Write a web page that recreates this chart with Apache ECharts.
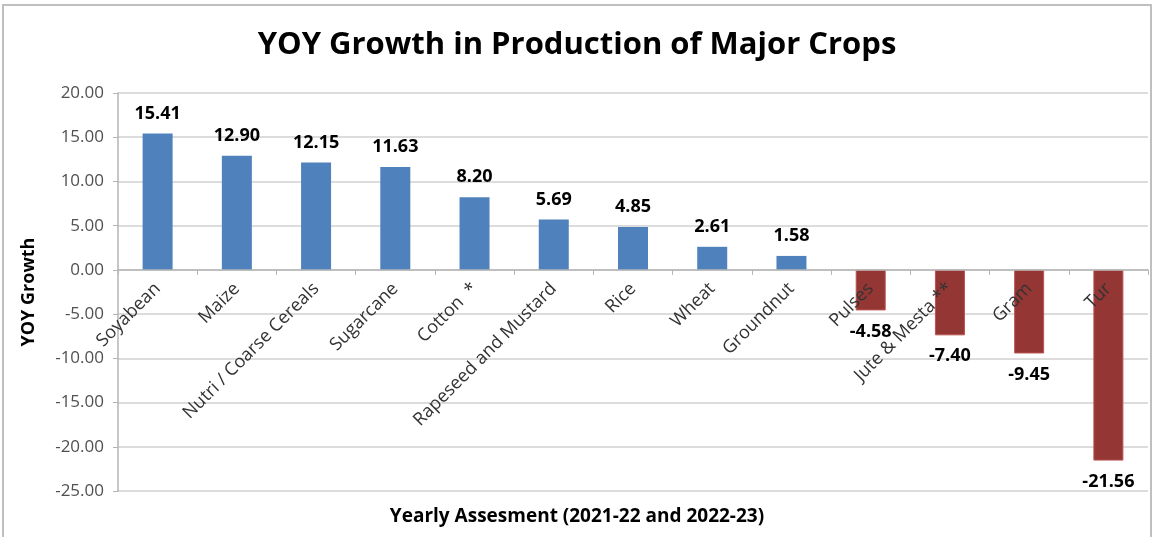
<!DOCTYPE html>
<html><head><meta charset="utf-8">
<script src="https://cdn.jsdelivr.net/npm/echarts@6/dist/echarts.min.js"></script>
<style>html,body{margin:0;padding:0;background:#fff}#c{width:1154px;height:537px}</style>
</head><body><div id="c"></div>
<script>
const categories = ["Soyabean","Maize","Nutri / Coarse Cereals","Sugarcane","Cotton  *","Rapeseed and Mustard","Rice","Wheat","Groundnut","Pulses","Jute & Mesta **","Gram","Tur"];
const growth = [15.41,12.90,12.15,11.63,8.20,5.69,4.85,2.61,1.58,-4.58,-7.40,-9.45,-21.56];
const yMin = -25, yMax = 20, yStep = 5;
const titleText = "YOY Growth in Production of Major Crops";
const yName = "YOY Growth";
const xName = "Yearly Assesment (2021-22 and 2022-23)";

const gridTop = 93, gridBottom = 46, H = 537;
const plotH = H - gridTop - gridBottom;
// move the category axis to the zero line of the value axis
const zeroOffset = -plotH * (0 - yMin) / (yMax - yMin);

const chart = echarts.init(document.getElementById('c'));
const font = "'Open Sans', 'Liberation Sans', sans-serif";
chart.setOption({
  animation:false,
  title:{text:titleText,left:'center',top:25,textStyle:{fontFamily:font,fontWeight:'bold',fontSize:31,color:'#000'}},
  graphic:[
    {type:'rect',shape:{x:3,y:5,width:1148,height:545},style:{fill:null,stroke:'#bfbfbf',lineWidth:2},silent:true},
    {type:'text',left:'center',top:507,style:{text:xName,font:"bold 19px "+font,fill:'#000'}}
  ],
  grid:{left:118,right:6,top:gridTop,bottom:gridBottom,containLabel:false},
  xAxis:{type:'category',data:categories,offset:zeroOffset,z:5,
    axisLine:{onZero:false,lineStyle:{color:'#b5b5b5',width:1.5}},
    axisTick:{show:true,alignWithLabel:false,length:5,lineStyle:{color:'#b5b5b5'}},
    axisLabel:{rotate:45,interval:0,fontFamily:font,fontSize:18,color:'#333',margin:16,hideOverlap:false}},
  yAxis:{type:'value',min:yMin,max:yMax,interval:yStep,
    name:yName,nameLocation:'middle',nameGap:80,nameRotate:90,
    nameTextStyle:{fontFamily:font,fontWeight:'bold',fontSize:18,color:'#000'},
    axisLine:{show:true,lineStyle:{color:'#b5b5b5',width:1.5}},
    axisTick:{show:true,length:5,lineStyle:{color:'#b5b5b5'}},
    axisLabel:{fontFamily:font,fontSize:17,color:'#505050',margin:14,formatter:v=>v.toFixed(2)},
    splitLine:{lineStyle:{color:'#d0d0d0',width:1.5}}},
  series:[{type:'bar',barWidth:30,z:2,
    data:growth.map(v=>({value:v,
      itemStyle:{color:v>=0?'#4F81BD':'#943634',borderColor:v>=0?'#4A7EBB':'#B85450',borderWidth:v>=0?0:1},
      label:{position:v>=0?'top':'bottom',distance:v>=0?11:12}})),
    label:{show:true,fontFamily:font,fontWeight:'bold',fontSize:18,color:'#000',formatter:p=>p.value.toFixed(2)}}]
});
</script></body></html>
